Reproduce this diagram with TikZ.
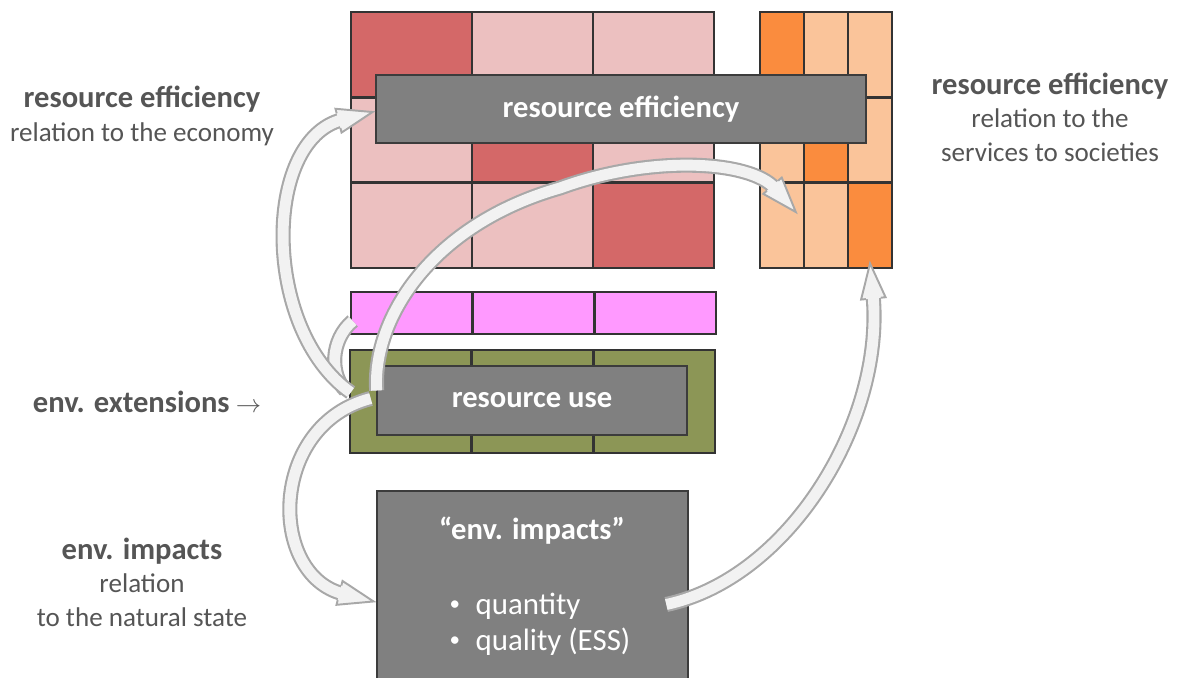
\documentclass[tikz,border=0pt]{standalone}
\usepackage{fontspec}
\setmainfont{Carlito}
\usetikzlibrary{decorations.markings}

\definecolor{redcell}{RGB}{212, 104, 104}
\definecolor{rosecell}{RGB}{236, 192, 192}
\definecolor{orangecell}{RGB}{250, 140, 62}
\definecolor{peachcell}{RGB}{250, 196, 154}
\definecolor{extpink}{RGB}{255, 153, 255}
\definecolor{olive}{RGB}{140, 150, 86}
\definecolor{boxgray}{RGB}{128, 128, 128}
\definecolor{boxedge}{RGB}{60, 60, 60}
\definecolor{arrowfill}{RGB}{242, 242, 242}
\definecolor{arrowedge}{RGB}{168, 168, 168}
\definecolor{labelgray}{RGB}{85, 85, 85}

\newcommand{\boldline}{\fontsize{17.4}{19}\selectfont\bfseries}
\newcommand{\dotitem}{\raisebox{0.12em}{\fontsize{12}{12}\selectfont•}\enspace}
% 3x3 block, dark cells on the diagonal
\newcommand{\gridblock}[7]{
    \foreach \i in {1,2,3}{
        \foreach \j in {1,2,3}{
            \ifnum\i=\j \def\cellcol{#6}\else \def\cellcol{#7}\fi
            \node[cell, fill=\cellcol, minimum width=#4*0.02cm, minimum height=#5*0.02cm]
            (#1\j\i) at ({#2+(\i-0.5)*#4}, {#3+(\j-0.5)*#5}) {};
        }
    }
}
\newcommand{\flowtip}{
    \fill[arrowfill] (-20pt,-7pt) -- (0pt,0pt) -- (-20pt,7pt) -- cycle;
    \draw[arrowedge, line width=1.1pt, shorten >=0pt] (-20pt,4.3pt) -- (-20pt,7pt)
    -- (0pt,0pt) -- (-20pt,-7pt) -- (-20pt,-4.3pt);
}

\begin{document}
\begin{tikzpicture}[x=0.02cm, y=-0.02cm,
        cell/.style={draw=black!80, line width=1.5pt, inner sep=0pt},
        box/.style={fill=boxgray, draw=boxedge, line width=1.5pt, text=white,
            font=\boldline},
        lbl/.style={text=labelgray, align=center, font=\fontsize{15.4}{19}\selectfont},
        flow/.style={draw=arrowfill, line width=6.2pt, shorten >=18pt,
            preaction={draw=arrowedge, line width=8.6pt},
            postaction={decorate},
            decoration={markings, mark=at position 0.9995 with {\flowtip}}},
        band/.style={draw=arrowfill, line width=6.2pt,
            preaction={draw=arrowedge, line width=8.6pt}}
    ]
    \useasboundingbox (0,0) rectangle (1178,678);

    % economy and services blocks
    \gridblock{r}{351}{12}{121}{85.3}{redcell}{rosecell}
    \gridblock{o}{760}{12}{44}{85.3}{orangecell}{peachcell}

    % extensions and resource rows
    \foreach \i in {1,2,3}{
        \node[cell, fill=extpink, minimum width=121.7*0.02cm, minimum height=42*0.02cm]
        (pk\i) at ({351+(\i-0.5)*121.7}, 313) {};
        \node[cell, fill=olive, minimum width=121.7*0.02cm, minimum height=103*0.02cm]
        (gr\i) at ({350+(\i-0.5)*121.7}, 401.5) {};
    }

    \node[box, minimum width=9.8cm, minimum height=1.36cm] (re) at (621, 109) {resource efficiency};
    \node[box, minimum width=6.2cm, minimum height=1.38cm] (ru) at (532, 400.5) {resource use};
    \node[box, minimum width=6.22cm, minimum height=4.02cm] (ei) at (532.5, 591.5) {};
    \node[text=white, font=\boldline] (eititle) at (532, 531) {“env. impacts”};
    \node[text=white, align=left, font=\fontsize{17.6}{20.5}\selectfont] (eilist) at (540, 624)
    {\dotitem quantity\\\dotitem quality (ESS)};

    % side labels
    \node[lbl] (lblecon) at (142, 116) {{\boldline resource efficiency}\\relation to the economy};
    \node[lbl] (lblext) at (147, 402) {{\boldline env. extensions} $\rightarrow$};
    \node[lbl] (lblimp) at (142, 582) {{\boldline env. impacts}\\relation\\to the natural state};
    \node[lbl] (lblserv) at (1050, 117) {{\boldline resource efficiency}\\relation to the\\services to societies};

    % curved flows
    \draw[band] ([shift={(3,8)}]pk1.west) .. controls (330,340) and (330,375) .. ([shift={(-30,-10)}]ru.west);
    \draw[flow] ([shift={(-25,-8)}]ru.west) .. controls (262,330) and (262,140) .. ([shift={(-2,3)}]re.west);
    \draw[flow] ([shift={(1,-10)}]ru.west) .. controls (372,320) and (430,225) .. (560,188)
    .. controls (650,155) and (750,160) .. ([shift={(14,-13)}]o31.center);
    \draw[flow] ([shift={(-23,13)}]ei.east) .. controls (790,578) and (885,420) .. ([shift={(0,-6)}]o33.south);
    \draw[flow] ([shift={(-5,-2)}]ru.west) .. controls (268,425) and (268,575) .. ([shift={(-2,10)}]ei.west);
\end{tikzpicture}
\end{document}
